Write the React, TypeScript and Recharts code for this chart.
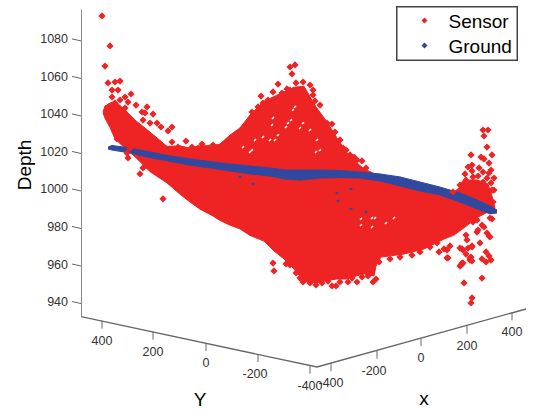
import React from 'react';
import { ComposedChart, Area, Line, Scatter, XAxis, YAxis, Legend } from 'recharts';

const FONT = '"Liberation Sans", Arial, sans-serif';
const RED = '#ee2324';
const BLUE = '#30499e';
const AXIS = '#666666';

// Horizontal positions are the projected position of the 3-D view, on a 0..534 scale.
const depthTicks = [940, 960, 980, 1000, 1020, 1040, 1060, 1080];
const legendNames = ['Sensor', 'Ground'];

const sensorBody = [
  [103, 1041.3, 1040.8], [105, 1044.5, 1038], [110, 1046, 1033], [115, 1047.2, 1027], [125, 1042.4, 1022],
  [135, 1037, 1017.5], [150, 1030.6, 1009.5], [167, 1023, 1003.5], [180, 1023.2, 997.5], [190, 1022.1, 993.3],
  [200, 1023.2, 989.5], [213, 1023.5, 985.9], [220, 1024.2, 983.5], [230, 1029, 981], [240, 1032.8, 979],
  [250, 1039.7, 975.5], [264, 1047, 972.5], [274, 1049.5, 967.2], [284, 1052, 963], [294, 1054.5, 957.6],
  [304, 1055, 951.2], [316, 1044, 950.2], [327, 1036, 951.5], [337, 1027.4, 952.3], [347, 1019.5, 952.3],
  [357, 1014.1, 954], [364, 1011, 955], [374, 1008.5, 953.9], [376, 1008.2, 959.2], [381, 1007.7, 964],
  [404, 1005.5, 965.6], [424, 1002, 968.3], [444, 999, 973.6], [454, 998.7, 975.7], [460, 1001.3, 978],
  [470, 1005.1, 982], [477, 1005.1, 985], [488, 1002.9, 988], [492, 996.5, 989], [495, 990, 989.6],
].map(([x, high, low]) => ({ x, range: [low, high] }));

const groundBody = [
  [108, 1022.6, 1021.6], [112, 1023.5, 1021], [130, 1022.1, 1019.5], [150, 1020, 1017], [170, 1017.9, 1015],
  [190, 1016.3, 1013], [210, 1014.9, 1011.5], [230, 1013.6, 1009.9], [250, 1012.5, 1008.3], [270, 1011.5, 1007.2],
  [285, 1010.4, 1005.6], [300, 1010.4, 1005], [320, 1010.4, 1006.1], [340, 1010.1, 1006.4], [360, 1009.3, 1006.1],
  [380, 1008.3, 1004.5], [400, 1006.7, 1001.9], [420, 1004, 999.2], [440, 1001.3, 997.1], [460, 998.1, 993.3],
  [475, 994.9, 990.1], [490, 991.2, 987], [497, 989.1, 987.5],
].map(([x, high, low]) => ({ x, range: [low, high] }));

const sensorOutliers = [
  // far left
  [102, 1092.5], [110, 1076.5], [105, 1065.8], [108, 1056.8], [115, 1057.3], [120, 1057.8], [112, 1053], [118, 1053],
  [112, 1049.3], [125, 1049.3], [131, 1050.9], [136, 1045], [128, 1046.6], [120, 1047.7], [115, 1046], [110, 1044.5],
  [107, 1041.3], [125, 1043.4], [123, 1040.8], [142, 1041.3], [145, 1040.8], [147, 1044], [153, 1040.2], [143, 1037],
  [150, 1035.4], [157, 1035.4], [161, 1033.3], [168, 1031.2], [172, 1033.3], [172, 1025.3], [186, 1025.8], [192, 1022.6],
  [202, 1024.2], [198, 1022.1], [178, 1022.6], [213, 1023.7], [117, 1026.9], [127, 1019.4], [128, 1016.8], [143, 1011.5],
  [140, 1008.3], [163, 995], [130, 1022], [136, 1032], [140, 1029],
  // central peak
  [252, 1041.3], [258, 1044], [261, 1049.8], [263, 1046.1], [268, 1047.7], [273, 1052], [278, 1056.2], [282, 1051.4],
  [290, 1053], [287, 1053.6], [296, 1056.8], [303, 1057.3], [310, 1055.7], [313, 1053], [313, 1050.4], [315, 1047.2],
  [320, 1045], [315, 1042.4], [318, 1039.7], [327, 1035.4], [332, 1034.9], [335, 1030.6], [340, 1026.4], [343, 1022.1],
  [250, 1037], [243, 1032.8], [238, 1029], [346, 1021], [350, 1018.4], [354, 1017.3], [357, 1015.7], [362, 1015.2],
  [366, 1011.5], [290, 1065.3], [295, 1066.4], [292, 1061.6],
  // right hump
  [483, 1031.7], [488, 1031.7], [484, 1028.5], [487, 1022.6], [471, 1018.4], [481, 1017.3], [492, 1018.4], [484, 1016.3],
  [489, 1014.1], [472, 1013], [468, 1012], [479, 1011.5], [472, 1009.9], [483, 1009.3], [491, 1010.4], [465, 1008.3],
  [489, 1008.8], [494, 1006.1], [491, 1003.5], [494, 999.7], [464, 1003.5], [473, 1006.7], [460, 1002.4], [453, 998.7],
  [483, 1004], [492, 999.7], [493, 993.3], [466, 1005], [478, 1007.2], [487, 1006.1],
  // underside
  [273, 960.8], [274, 956.6], [286, 960.3], [290, 959.8], [296, 955.5], [300, 952.8], [303, 950.7], [310, 950.2],
  [316, 949.1], [322, 950.2], [328, 951.2], [332, 948.6], [336, 948.6], [340, 950.7], [348, 950.7], [352, 952.8],
  [357, 950.7], [362, 953.4], [368, 953.9], [373, 950.7], [376, 952.3], [379, 961.4], [390, 963], [400, 964],
  [412, 965], [420, 966.7], [430, 969.3], [437, 971.5],
  // lower right
  [464, 950.2], [482, 952.8], [472, 942.2], [471, 939.5], [461, 959.8], [463, 960.8], [470, 962.4], [486, 961.4],
  [491, 962.4], [482, 963], [489, 964.6], [486, 966.7], [471, 964], [466, 965.6], [472, 969.9], [462, 968.3],
  [447, 963.5], [439, 966.7], [444, 968.3], [480, 971.5], [466, 975.7], [489, 975.2], [477, 977.3], [484, 980],
  [492, 984.3], [477, 983.7], [482, 981], [490, 984.8], [487, 976.8], [490, 974.7], [478, 978.4], [473, 982.7],
  [467, 973.1], [460, 968.8], [463, 967.8], [468, 968.8], [472, 969.4], [447, 967.8], [450, 969.9], [448, 963.5],
  [470, 963.5], [472, 961.9], [462, 960.8], [460, 959.2],
].map(([x, depth]) => ({ x, depth }));

// small unfilled gaps seen inside the sensor cloud
const sensorGaps = [
  [295, 1044], [293, 1042.4], [288, 1035.4], [291, 1037], [286, 1033.3], [303, 1035.4], [300, 1032.8], [273, 1038.1],
  [272, 1034.4], [275, 1026.4], [270, 1026.4], [263, 1028], [243, 1022.6], [252, 1021], [250, 1020], [278, 1029],
  [317, 1026.4], [320, 1021], [316, 1020], [255, 1026.4], [310, 1031.7], [361, 984.3],
  [372, 984.8], [375, 984.8], [372, 980], [361, 981], [386, 982.1], [394, 984.8],
].map(([x, depth]) => ({ x, depth }));

const groundStrays = [
  [240, 1006.7], [253, 1003], [337, 998.1], [351, 1000.3], [338, 993.9], [351, 989.6], [366, 988],
].map(([x, depth]) => ({ x, depth }));

const depthAxisLine = [{ x: 81, depth: 932.2 }, { x: 81, depth: 1096 }];
const floorAxisLine = [{ x: 81, depth: 932.2 }, { x: 317, depth: 905.4 }, { x: 526, depth: 936.3 }];

const yFloorTicks = [
  { x: 102, depth: 930.1, label: '400' },
  { x: 153, depth: 924.2, label: '200' },
  { x: 206, depth: 918.2, label: '0' },
  { x: 258, depth: 912.3, label: '-200' },
  { x: 310, depth: 906.1, label: '-400' },
];
const xFloorTicks = [
  { x: 331, depth: 907.4, label: '-400' },
  { x: 377, depth: 914.1, label: '-200' },
  { x: 421, depth: 920.8, label: '0' },
  { x: 467, depth: 927.4, label: '200' },
  { x: 512, depth: 934.5, label: '400' },
];
const floorTitles = [
  { x: 200, depth: 888.3, label: 'Y' },
  { x: 424, depth: 888.8, label: 'x' },
];

const Diamond = (color: string) => (p: any) => (
  <path d={`M${p.cx} ${p.cy - 3.6}L${p.cx + 3.6} ${p.cy}L${p.cx} ${p.cy + 3.6}L${p.cx - 3.6} ${p.cy}Z`} fill={color} />
);
const SmallDiamond = (p: any) => (
  <path d={`M${p.cx} ${p.cy - 1.5}L${p.cx + 2} ${p.cy}L${p.cx} ${p.cy + 1.5}L${p.cx - 2} ${p.cy}Z`} fill={BLUE} />
);
const Gap = (p: any) => (
  <line x1={p.cx - 1} y1={p.cy + 0.8} x2={p.cx + 1} y2={p.cy - 0.8} stroke="#fff" strokeWidth={1.6} />
);

const FloorTick = (p: any) => {
  const label = p.payload?.label ?? p.label;
  return (
    <g>
      <line x1={p.cx} y1={p.cy} x2={p.cx} y2={p.cy + 8} stroke={AXIS} strokeWidth={1} />
      <text x={p.cx + (label === '-200' ? -3 : 0)} y={p.cy + 20} textAnchor="middle" dominantBaseline="central" fontFamily={FONT} fontSize={12.5} fill="#333">
        {label}
      </text>
    </g>
  );
};

const FloorTitle = (p: any) => (
  <text x={p.cx} y={p.cy} textAnchor="middle" dominantBaseline="central" fontFamily={FONT} fontSize={19} fill="#000">
    {p.payload?.label ?? p.label}
  </text>
);

const DepthTick = (p: any) => (
  <g>
    <line x1={72} y1={p.y - 0.5} x2={81} y2={p.y + 1.5} stroke={AXIS} strokeWidth={1} />
    <text x={68} y={p.y} textAnchor="end" dominantBaseline="central" fontFamily={FONT} fontSize={12.5} fill="#333">
      {p.payload.value}
    </text>
  </g>
);

const DepthLabel = () => (
  <text x={24} y={165} transform="rotate(-90 24 165)" textAnchor="middle" dominantBaseline="central" fontFamily={FONT} fontSize={19} fill="#000">
    Depth
  </text>
);

const LegendBox = () => (
  <svg width={122} height={55} style={{ display: 'block' }}>
    <rect x={0.75} y={0.75} width={120.5} height={53.5} fill="#fff" stroke="#444" strokeWidth={1.5} />
    {legendNames.map((name, i) => {
      const y = 14.5 + i * 25;
      const color = i === 0 ? RED : BLUE;
      return (
        <g key={name}>
          <path d={`M28.5 ${y - 3}L31.5 ${y}L28.5 ${y + 3}L25.5 ${y}Z`} fill={color} />
          <text x={52.5} y={y + 0.5} dominantBaseline="central" fontFamily={FONT} fontSize={19} fill="#000">
            {name}
          </text>
        </g>
      );
    })}
  </svg>
);

export default function App() {
  return (
    <div style={{ position: 'absolute', left: 0, top: 0, width: 534, height: 409, background: '#fff' }}>
      <ComposedChart width={534} height={409} margin={{ top: 0, right: 0, bottom: 0, left: 0 }}>
        <XAxis type="number" dataKey="x" domain={[81, 534]} hide allowDataOverflow />
        <YAxis
          type="number"
          dataKey="depth"
          domain={[883, 1101]}
          ticks={depthTicks}
          width={81}
          axisLine={false}
          tickLine={false}
          tick={DepthTick}
          interval={0}
          label={{ content: DepthLabel }}
        />
        <Area data={sensorBody} dataKey="range" type="linear" stroke={RED} strokeWidth={1} fill={RED} fillOpacity={1} dot={false} activeDot={false} isAnimationActive={false} />
        <Scatter data={sensorOutliers} dataKey="depth" shape={Diamond(RED)} isAnimationActive={false} />
        <Scatter data={sensorGaps} dataKey="depth" shape={Gap} isAnimationActive={false} />
        <Area data={groundBody} dataKey="range" type="linear" stroke={BLUE} strokeWidth={1} fill={BLUE} fillOpacity={1} dot={false} activeDot={false} isAnimationActive={false} />
        <Scatter data={groundStrays} dataKey="depth" shape={SmallDiamond} isAnimationActive={false} />
        <Line data={depthAxisLine} dataKey="depth" stroke={AXIS} strokeWidth={1.5} dot={false} activeDot={false} isAnimationActive={false} />
        <Line data={floorAxisLine} dataKey="depth" stroke={AXIS} strokeWidth={1.3} dot={false} activeDot={false} isAnimationActive={false} />
        <Scatter data={yFloorTicks} dataKey="depth" shape={FloorTick} isAnimationActive={false} />
        <Scatter data={xFloorTicks} dataKey="depth" shape={FloorTick} isAnimationActive={false} />
        <Scatter data={floorTitles} dataKey="depth" shape={FloorTitle} isAnimationActive={false} />
        <Legend
          layout="vertical"
          align="center"
          verticalAlign="middle"
          content={LegendBox}
          wrapperStyle={{ position: 'absolute', left: 396, top: 6, width: 122, height: 55 }}
        />
      </ComposedChart>
    </div>
  );
}
